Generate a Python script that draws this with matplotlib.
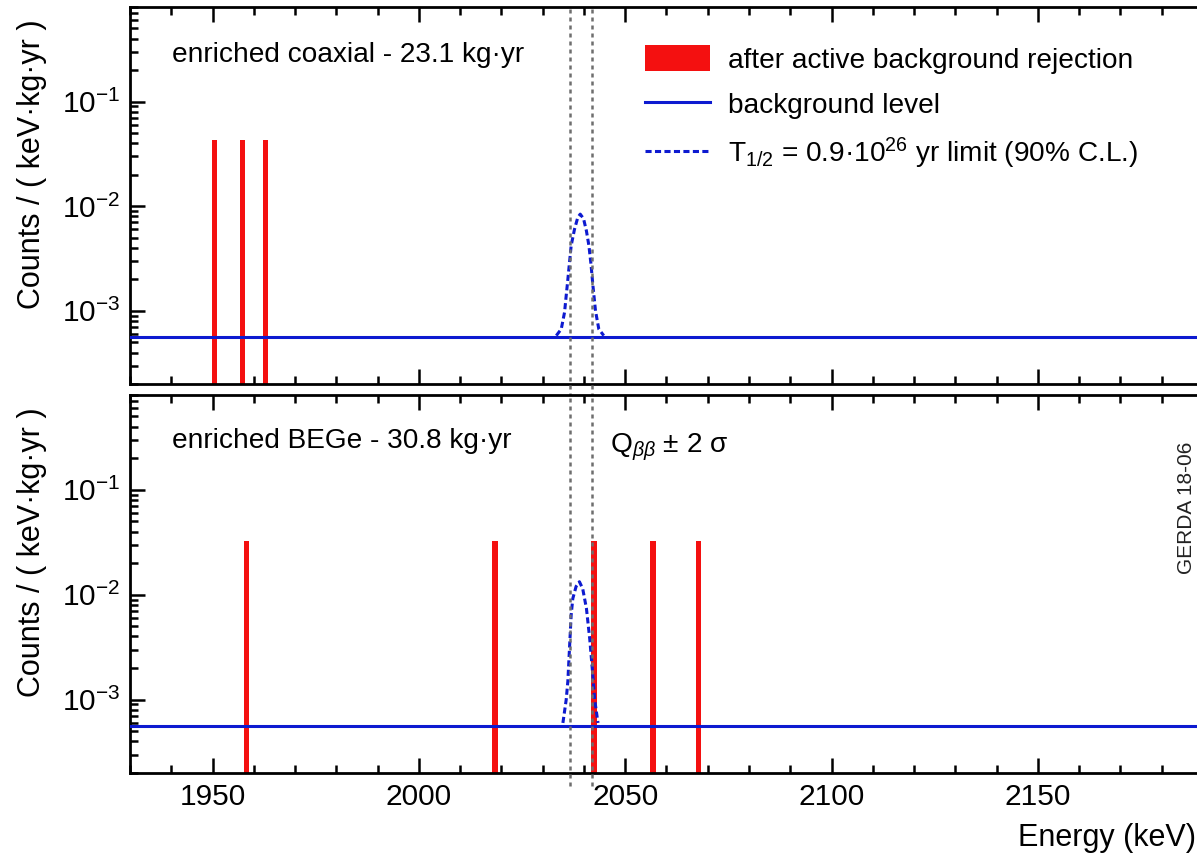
import matplotlib
matplotlib.use('Agg')
import matplotlib.pyplot as plt
import matplotlib.ticker as ticker
from matplotlib.lines import Line2D
from matplotlib.patches import Patch

plt.rcParams['font.family'] = ['Liberation Sans', 'DejaVu Sans']
plt.rcParams['mathtext.fontset'] = 'custom'
plt.rcParams['mathtext.rm'] = 'Liberation Sans'
plt.rcParams['mathtext.it'] = 'Liberation Sans:italic'
plt.rcParams['mathtext.bf'] = 'Liberation Sans:bold'
plt.rcParams['mathtext.sf'] = 'Liberation Sans'

# values
energy_range = (1930, 2190)
count_range = (2e-4, 0.8)
q_window = [2036.5, 2041.9]
bkg_level = 5.6e-4

coax_events = [1950.5, 1957.3, 1962.8]
coax_counts = [0.0433, 0.0433, 0.0433]
coax_curve_e = [2033.3, 2034.5, 2035.3, 2035.7, 2036.1, 2036.5, 2036.9, 2037.7, 2038.5,
                2039.1, 2039.9, 2040.6, 2041.2, 2041.7, 2042.2, 2042.8, 2043.6, 2044.8]
coax_curve_y = [5.8e-4, 6.7e-4, 9.7e-4, 1.4e-3, 2.0e-3, 2.9e-3, 4.2e-3, 6.0e-3, 7.8e-3,
                8.4e-3, 7.6e-3, 5.8e-3, 4.2e-3, 2.8e-3, 1.7e-3, 1.0e-3, 6.7e-4, 5.8e-4]

bege_events = [1958.2, 2018.4, 2042.4, 2056.7, 2067.8]
bege_counts = [0.0325, 0.0325, 0.0325, 0.0325, 0.0325]
bege_curve_e = [2034.9, 2035.7, 2036.1, 2036.5, 2036.9, 2037.3, 2038.1, 2038.9,
                2039.7, 2040.6, 2041.4, 2042.1, 2042.6, 2043.4]
bege_curve_y = [6.0e-4, 1.0e-3, 1.5e-3, 3.1e-3, 6.4e-3, 9.2e-3, 1.2e-2, 1.33e-2,
                1.14e-2, 7.4e-3, 3.8e-3, 1.8e-3, 1.0e-3, 6.0e-4]

RED = '#f41010'
BLUE = '#0d1ad0'
FS_TICK = 21.5
FS_TEXT = 20.2


def draw_panel(ax, events, counts, curve_e, curve_y, show_xlabels):
    ax.bar(events, counts, width=1.35, bottom=1e-6, color=RED, linewidth=0, zorder=2)
    ax.axhline(bkg_level, color=BLUE, lw=2.2, zorder=3)
    ax.plot(curve_e, curve_y, color=BLUE, lw=2.2, ls=(0, (2, 1.1)), zorder=4)
    for q in q_window:
        ax.axvline(q, color='#6e6e6e', lw=1.8, ls=(0, (1.6, 1.6)), zorder=5,
                   ymin=-0.035, clip_on=False)

    ax.set_yscale('log')
    ax.set_xlim(*energy_range)
    ax.set_ylim(*count_range)
    ax.xaxis.set_major_locator(ticker.MultipleLocator(50))
    ax.xaxis.set_minor_locator(ticker.MultipleLocator(10))
    ax.yaxis.set_major_locator(ticker.LogLocator(base=10))
    ax.yaxis.set_minor_locator(ticker.LogLocator(base=10, subs=range(2, 10)))
    ax.yaxis.set_minor_formatter(ticker.NullFormatter())
    ax.tick_params(which='both', direction='in', top=True, right=False,
                   labelsize=FS_TICK, width=1.8, pad=7)
    ax.tick_params(which='major', length=11)
    ax.tick_params(which='minor', length=6)
    if not show_xlabels:
        ax.tick_params(labelbottom=False)
    for s in ax.spines.values():
        s.set_linewidth(2.0)

    ax.text(-0.091, 0.968, 'Counts / ( keV·kg·yr )', transform=ax.transAxes,
            rotation=90, ha='center', va='top', fontsize=22)


fig = plt.figure(figsize=(11.97, 8.57), dpi=100)
ax_top = fig.add_axes([0.1086, 0.5519, 0.8964, 0.4399])
ax_bot = fig.add_axes([0.1086, 0.098, 0.8964, 0.4411])

draw_panel(ax_top, coax_events, coax_counts, coax_curve_e, coax_curve_y, False)
draw_panel(ax_bot, bege_events, bege_counts, bege_curve_e, bege_curve_y, True)

fig.text(172 / 1197, 1 - 55 / 857, 'enriched coaxial - 23.1 kg·yr',
         fontsize=FS_TEXT, ha='left', va='center')
fig.text(172 / 1197, 1 - 441 / 857, 'enriched BEGe - 30.8 kg·yr',
         fontsize=FS_TEXT, ha='left', va='center')
fig.text(610 / 1197, 1 - 447 / 857, r'Q$_{\beta\beta}$ ± 2 σ',
         fontsize=FS_TEXT, ha='left', va='center')
fig.text(1186 / 1197, 1 - 508 / 857, 'GERDA 18-06', rotation=90,
         fontsize=15, ha='center', va='center', color='#222222')
fig.text(1196 / 1197, 1 - 838 / 857, 'Energy (keV)', fontsize=22,
         ha='right', va='center')

handles = [Patch(facecolor=RED, edgecolor='none'),
           Line2D([], [], color=BLUE, lw=2.2),
           Line2D([], [], color=BLUE, lw=2.2, ls=(0, (2, 1.1)))]
labels = ['after active background rejection', 'background level',
          r'T$_{1/2}$ = 0.9·10$^{26}$ yr limit (90% C.L.)']
ax_top.legend(handles, labels, loc='upper left',
              bbox_to_anchor=(645 / 1197, 1 - 45 / 857),
              bbox_transform=fig.transFigure, frameon=False, fontsize=FS_TEXT,
              handlelength=2.3, handleheight=1.05, handletextpad=0.65,
              labelspacing=0.6, borderpad=0, borderaxespad=0)

fig.savefig('out.png', dpi=100)
